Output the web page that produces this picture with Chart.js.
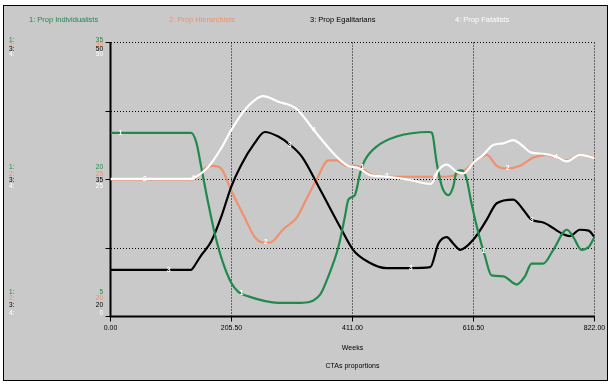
<!DOCTYPE html>
<html>
<head>
<meta charset="utf-8">
<script src="https://cdn.jsdelivr.net/npm/chart.js@4.4.1/dist/chart.umd.min.js"></script>
<style>
  html, body { margin: 0; padding: 0; background: #fff; }
  #wrap { width: 616px; height: 384px; }
</style>
</head>
<body>
<div id="wrap"><canvas id="chart" width="616" height="384"></canvas></div>
<script>
// weeks on the x axis
const xTicks = [0, 205.5, 411, 616.5, 822];

// 1: Prop Individualists (axis 5..35)
const indWeeks = [0, 137, 146, 154, 166, 177, 191, 205, 217, 234, 285, 322, 356, 370, 387, 398, 404, 415, 424, 432, 452, 486, 541, 546, 554, 563, 574, 582, 588, 597, 605, 613, 625, 636, 647, 667, 690, 704, 715, 735, 752, 775, 786, 800, 812, 822];
const indValues = [25.1, 25.1, 24.0, 21.4, 17.4, 14.1, 10.9, 8.7, 7.7, 7.2, 6.5, 6.5, 7.4, 9.4, 12.6, 15.9, 17.8, 18.3, 20.7, 22.1, 23.6, 24.7, 25.2, 25.1, 21.8, 19.2, 18.3, 19.2, 20.9, 21.0, 20.0, 17.4, 14.1, 11.6, 9.5, 9.4, 8.5, 9.4, 10.8, 10.8, 12.3, 14.5, 13.7, 12.3, 12.6, 13.7];

// 2: Prop Hierarchists (axis 20..30)
const hierWeeks = [0, 140, 160, 174, 188, 205, 228, 245, 259, 271, 294, 316, 333, 350, 370, 384, 401, 418, 441, 475, 520, 554, 571, 599, 622, 639, 656, 673, 696, 718, 741, 758, 775, 797, 822];
const hierValues = [25.0, 25.0, 25.4, 25.5, 25.4, 24.6, 23.6, 22.9, 22.7, 22.7, 23.2, 23.6, 24.3, 25.0, 25.7, 25.7, 25.5, 25.5, 25.2, 25.1, 25.1, 25.1, 25.1, 25.3, 25.7, 25.9, 25.5, 25.4, 25.5, 25.8, 25.9, 25.8, 25.7, 25.9, 25.8];

// 3: Prop Egalitarians (axis 20..50)
const egalWeeks = [0, 137, 140, 154, 171, 188, 205, 222, 245, 262, 285, 305, 325, 356, 390, 412, 437, 469, 509, 543, 557, 571, 582, 594, 616, 639, 656, 684, 701, 715, 735, 769, 780, 797, 812, 822];
const egalValues = [25.1, 25.1, 25.3, 26.7, 28.2, 30.9, 34.2, 36.6, 39.0, 40.2, 39.7, 38.8, 37.5, 33.9, 29.8, 27.3, 26.0, 25.3, 25.3, 25.4, 28.0, 28.7, 28.0, 27.3, 28.4, 30.6, 32.4, 32.8, 31.7, 30.6, 30.3, 29.0, 28.8, 29.5, 29.4, 28.7];

// 4: Prop Fatalists (axis 0..50)
const fatWeeks = [0, 137, 140, 166, 188, 205, 228, 245, 259, 285, 316, 344, 381, 403, 421, 441, 471, 509, 544, 557, 571, 588, 599, 616, 633, 650, 667, 684, 698, 715, 735, 758, 775, 797, 822];
const fatValues = [25.1, 25.1, 25.2, 27.3, 30.7, 34.0, 37.7, 39.5, 40.2, 39.2, 37.9, 34.2, 29.5, 27.5, 27.1, 25.8, 25.5, 24.9, 24.2, 26.7, 27.7, 26.4, 26.1, 28.0, 29.5, 31.3, 31.6, 32.2, 31.3, 29.9, 29.7, 29.1, 28.3, 29.5, 28.9];

const seriesNames = ['1: Prop Individualists', '2: Prop Hierarchists', '3: Prop Egalitarians', '4: Prop Fatalists'];
const axisMins = [5, 20, 20, 0];
const axisMaxs = [35, 30, 50, 50];
// where the little series numbers sit on each line (repeats every 205.5 weeks)
const labelStarts = [17, 58, 99, 140];

const colors = ['#1f8a4c', '#f0906e', '#000000', '#ffffff'];
const axisIds = ['yInd', 'yHier', 'yEgal', 'yFat'];
const bg = '#c9c9c9';
const narrow = '"Liberation Sans Narrow", "Liberation Sans", Arial, sans-serif';

function pts(ws, vs) { return ws.map((w, i) => ({ x: w, y: vs[i] })); }

function interp(ws, vs, t) {
  for (let i = 1; i < ws.length; i++) {
    if (t <= ws[i]) {
      const f = (t - ws[i - 1]) / (ws[i] - ws[i - 1]);
      return vs[i - 1] + f * (vs[i] - vs[i - 1]);
    }
  }
  return vs[vs.length - 1];
}

const allWeeks = [indWeeks, hierWeeks, egalWeeks, fatWeeks];
const allValues = [indValues, hierValues, egalValues, fatValues];

// gray panel + frame
const framePlugin = {
  id: 'frame',
  beforeDraw(chart) {
    const ctx = chart.ctx;
    ctx.save();
    ctx.fillStyle = '#fff';
    ctx.fillRect(0, 0, chart.width, chart.height);
    ctx.fillStyle = bg;
    ctx.fillRect(3, 5, 605, 376);
    ctx.strokeStyle = '#000';
    ctx.lineWidth = 1;
    ctx.strokeRect(3.5, 5.5, 604, 375);
    ctx.restore();
  },
  beforeDatasetsDraw(chart) {
    const { ctx, chartArea: a } = chart;
    ctx.save();
    ctx.strokeStyle = '#000';
    ctx.lineWidth = 2;
    ctx.beginPath();
    ctx.moveTo(a.left, a.top);
    ctx.lineTo(a.left, a.bottom);
    ctx.lineTo(a.right, a.bottom);
    ctx.stroke();
    ctx.restore();
  },
  afterDraw(chart) {
    const { ctx, chartArea: a } = chart;
    ctx.save();
    // legend row
    ctx.font = '7.5px ' + narrow;
    ctx.textBaseline = 'middle';
    ctx.textAlign = 'left';
    const legendX = [29, 169, 310, 455];
    seriesNames.forEach((n, i) => {
      ctx.fillStyle = colors[i];
      ctx.fillText(n, legendX[i], 19.5);
    });

    // stacked axis labels on the left
    ctx.font = '6.5px ' + narrow;
    const groups = [
      { frac: 1, offs: [-2, 2.5, 6.5, 11.5] },
      { frac: 0.5, offs: [-12, -5.5, 0.5, 6.5] },
      { frac: 0, offs: [-24.5, -18.5, -11.5, -3.5] }
    ];
    const yRef = chart.scales.yInd;
    groups.forEach(g => {
      const base = yRef.getPixelForValue(axisMins[0] + g.frac * (axisMaxs[0] - axisMins[0]));
      axisIds.forEach((id, i) => {
        const v = axisMins[i] + g.frac * (axisMaxs[i] - axisMins[i]);
        ctx.fillStyle = colors[i];
        ctx.textAlign = 'left';
        ctx.fillText((i + 1) + ':', 9, base + g.offs[i]);
        ctx.textAlign = 'right';
        ctx.fillText(String(v), 103, base + g.offs[i]);
      });
    });

    // axis captions
    ctx.fillStyle = '#000';
    ctx.textAlign = 'center';
    ctx.font = '7px "Liberation Sans", Arial, sans-serif';
    const cx = (a.left + a.right) / 2;
    ctx.fillText('Weeks', cx, 348);
    ctx.fillText('CTAs proportions', cx, 366);
    ctx.restore();
  },
  afterDatasetsDraw(chart) {
    const ctx = chart.ctx;
    const xs = chart.scales.x;
    ctx.save();
    ctx.font = 'bold 7px "Liberation Sans", Arial, sans-serif';
    ctx.textAlign = 'center';
    ctx.textBaseline = 'middle';
    ctx.fillStyle = '#fff';
    for (let i = 0; i < 4; i++) {
      const ys = chart.scales[axisIds[i]];
      for (let k = 0; k < 4; k++) {
        const t = labelStarts[i] + k * 205.5;
        const v = interp(allWeeks[i], allValues[i], t);
        ctx.fillText(String(i + 1), xs.getPixelForValue(t), ys.getPixelForValue(v));
      }
    }
    ctx.restore();
  }
};

const gridOpts = { color: '#000', lineWidth: 1, tickLength: 5, tickColor: '#000', tickWidth: 1 };
const hiddenAxis = (i) => ({ type: 'linear', display: false, min: axisMins[i], max: axisMaxs[i] });

new Chart(document.getElementById('chart'), {
  type: 'line',
  data: {
    datasets: [0, 1, 2, 3].map(i => ({
      label: seriesNames[i],
      data: pts(allWeeks[i], allValues[i]),
      yAxisID: axisIds[i],
      borderColor: colors[i],
      borderWidth: 2.2,
      pointRadius: 0,
      cubicInterpolationMode: 'monotone',
      order: [2, 4, 3, 1][i]
    }))
  },
  options: {
    responsive: false,
    animation: false,
    layout: { padding: { left: 105.5, top: 42.5, right: 21.5, bottom: 0 } },
    plugins: { legend: { display: false }, tooltip: { enabled: false } },
    scales: {
      x: {
        type: 'linear',
        min: 0,
        max: 822,
        afterBuildTicks: s => { s.ticks = xTicks.map(v => ({ value: v })); },
        afterFit: s => { s.height = 67.5; },
        ticks: {
          callback: v => Number(v).toFixed(2),
          font: { size: 7, family: '"Liberation Sans", Arial, sans-serif' },
          color: '#000',
          padding: 2,
          maxRotation: 0,
          autoSkip: false
        },
        grid: gridOpts,
        border: { display: false, dash: [1, 2] }
      },
      yInd: {
        type: 'linear',
        position: 'left',
        min: axisMins[0],
        max: axisMaxs[0],
        afterBuildTicks: s => { s.ticks = [5, 12.5, 20, 27.5, 35].map(v => ({ value: v })); },
        afterFit: s => { s.width = 5; },
        ticks: { display: false },
        grid: gridOpts,
        border: { display: false, dash: [1, 2] }
      },
      yHier: hiddenAxis(1),
      yEgal: hiddenAxis(2),
      yFat: hiddenAxis(3)
    }
  },
  plugins: [framePlugin]
});
</script>
</body>
</html>
